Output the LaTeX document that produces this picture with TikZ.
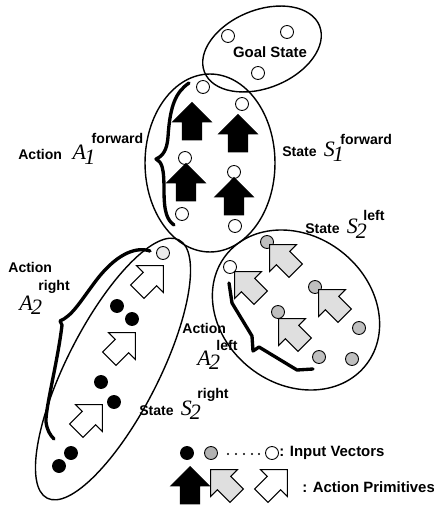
\documentclass[tikz,border=0pt]{standalone}
\usepackage{fontspec}
\setmainfont{Liberation Serif}
\setsansfont{Liberation Sans}
\usepackage{tikz}
\usetikzlibrary{positioning,shapes.geometric,shapes.arrows}
\newcommand{\labfont}{\sffamily\bfseries\upshape\fontsize{8}{9.5}\selectfont}
\newcommand{\symfont}{\rmfamily\mdseries\itshape\fontsize{12.5}{14}\selectfont}
\newcommand{\symlab}[4][8.5pt]{#2\kern-1pt\raisebox{-2.5pt}{#3}\kern-2pt\raisebox{#1}{\labfont #4}}
\tikzset{
  stateell/.style={ellipse, draw, line width=0.8pt, inner sep=0pt},
  wvec/.style={circle, draw, fill=white, line width=0.5pt, inner sep=0pt, minimum size=0.26cm},
  gvec/.style={wvec, fill=gray!50},
  bvec/.style={wvec, fill=black},
  prim/.style={single arrow, draw, line width=0.6pt, inner xsep=0pt, inner ysep=0.18cm, minimum height=0.74cm, minimum width=0.74cm, single arrow head extend=0.19cm, single arrow tip angle=90},
  fwdprim/.style={prim, fill=black, rotate=90},
  leftprim/.style={prim, fill=gray!25, rotate=135},
  rightprim/.style={prim, fill=white, rotate=45},
  lab/.style={font=\labfont, inner sep=0pt},
  sym/.style={font=\symfont, inner sep=0pt},
  brk/.style={line width=1.9pt, line cap=round, line join=round}
}
\begin{document}
\begin{tikzpicture}[x=0.02cm, y=-0.02cm]
  \useasboundingbox (0,0) rectangle (433,506);
  % states
  \node[stateell, minimum width=2.48cm, minimum height=1.56cm, rotate=22] (goal) at (262,49) {};
  \node[stateell, minimum width=2.6cm, minimum height=3.56cm] (sfwd) at (210,163) {};
  \node[stateell, minimum width=5.8cm, minimum height=1.84cm, rotate=63] (sright) at (113,369) {};
  \node[stateell, minimum width=3.56cm, minimum height=2.96cm, rotate=-38] (sleft) at (296,310) {};
  % input vectors
  \foreach \p [count=\i] in {(228,36),(287,32),(258,73)} \node[wvec] (g\i) at \p {};
  \foreach \p [count=\i] in {(203,87),(242,104),(185,158),(234,172),(182,214),(235,226)} \node[wvec] (f\i) at \p {};
  \foreach \p [count=\i] in {(267,242),(315,287),(278,312),(359,328),(319,357),(352,359)} \node[gvec] (l\i) at \p {};
  \node[wvec] (l0) at (230,267) {};
  \foreach \p [count=\i] in {(117,306),(132,319),(101,382),(114,402),(71,453),(59,466)} \node[bvec] (r\i) at \p {};
  \node[wvec, fill=gray!15] (r0) at (163,253) {};
  % action primitives
  \foreach \p [count=\i] in {(192,126),(238,138),(186,187),(234,201)} \node[fwdprim] (af\i) at \p {};
  \foreach \p [count=\i] in {(286,261),(251,288),(335,306),(295,335)} \node[leftprim] (al\i) at \p {};
  \foreach \p [count=\i] in {(147,282),(119,349),(86,421)} \node[rightprim] (ar\i) at \p {};
  % action brackets
  \draw[brk] (189,83) .. controls (176,92) and (170,105) .. (168,137) .. controls (167,150) and (163,156) .. (156,159) .. controls (162,162) and (164,168) .. (164,190) .. controls (164,212) and (167,220) .. (174,225);
  \draw[brk] (150,251) .. controls (135,246) and (115,255) .. (95,282) .. controls (80,302) and (72,316) .. (60,321) -- (62,325) .. controls (58,360) and (45,410) .. (46,422) .. controls (47,430) and (50,435) .. (54,439);
  \draw[brk] (229,283) -- (232,303) -- (252,336) -- (253,351) -- (259,347) -- (297,370) -- (313,369);
  % labels
  \node[lab, font=\labfont\fontsize{8.5}{10}\selectfont] (goallab) at (270,52) {Goal State};
  \node[lab, anchor=base west] (a1lab) at (18,160) {Action\hspace{6pt}{\symfont\symlab[9.5pt]{A}{1}{forward}}};
  \node[lab, anchor=base west] (s1lab) at (282,157) {State\hspace{4pt}{\symfont\symlab[7pt]{S}{1}{forward}}};
  \node[lab, anchor=base west] (s2llab) at (305,234) {State\hspace{4pt}{\symfont\symlab[7.5pt]{S}{2}{left}}};
  \node[lab, anchor=base west] (s2rlab) at (139,415) {State\hspace{4pt}{\symfont\symlab[9.5pt]{S}{2}{right}}};
  \node[lab, anchor=base west] (a2rword) at (8,272) {Action};
  \node[sym, anchor=base west] (a2rsym) at (19,310) {\symlab[11pt]{A}{2}{right}};
  \node[lab, anchor=base west] (a2lword) at (182,333) {Action};
  \node[sym, anchor=base west] (a2lsym) at (197,365) {\symlab[8.5pt]{A}{2}{left}};
  % legend
  \node[bvec] (kb) at (187,453) {};
  \node[gvec, fill=gray!60] (kg) at (211,453) {};
  \node[wvec] (kw) at (272,453) {};
  \foreach \x in {228,236,244,252,259} \fill (\x,454) circle (1.1);
  \node[lab, font=\labfont\fontsize{8.5}{10}\selectfont, anchor=west] (kvec) at (279,453) {: Input Vectors};
  \node[fwdprim] (kf) at (190,490) {};
  \node[leftprim] (kl) at (227,486) {};
  \node[rightprim] (kr) at (271,486) {};
  \node[lab, font=\labfont\fontsize{8.5}{10}\selectfont, anchor=west] (kprim) at (302,487) {: Action Primitives};
\end{tikzpicture}
\end{document}
